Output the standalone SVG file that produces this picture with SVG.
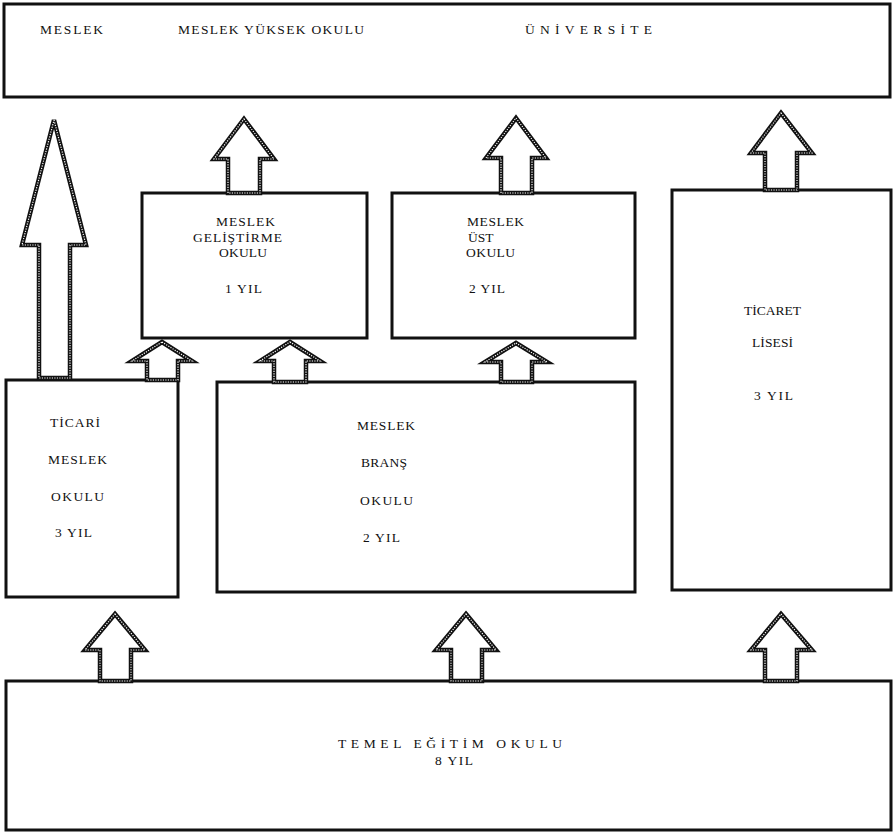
<svg xmlns="http://www.w3.org/2000/svg" width="895" height="836" viewBox="0 0 895 836">
<style>
.box{fill:#fff;stroke:#111;stroke-width:3}
.arr{fill:#fff;stroke:#111;stroke-width:4.5;stroke-linejoin:miter}
.dot{fill:none;stroke:#fff;stroke-width:1.2;stroke-dasharray:1.2 1.3}
text{font-family:"Liberation Serif","Times New Roman",serif;font-size:13.5px;fill:#111}
</style>
<rect width="895" height="836" fill="#fff"/>
<g id="universite">
<rect class="box" x="4" y="4" width="886" height="93"/>
<text x="40" y="34" textLength="63" lengthAdjust="spacing">MESLEK</text>
<text x="178" y="34" textLength="186" lengthAdjust="spacing">MESLEK YÜKSEK OKULU</text>
<text x="525" y="34" textLength="127" lengthAdjust="spacing">ÜNİVERSİTE</text>
</g>
<g id="meslek-gelistirme">
<rect class="box" x="142" y="193" width="225" height="145"/>
<text x="216" y="226" textLength="59" lengthAdjust="spacing">MESLEK</text>
<text x="193" y="242" textLength="89" lengthAdjust="spacing">GELİŞTİRME</text>
<text x="219" y="257" textLength="48" lengthAdjust="spacing">OKULU</text>
<text x="225" y="293" textLength="37" lengthAdjust="spacing">1 YIL</text>
</g>
<g id="meslek-ust">
<rect class="box" x="392" y="193" width="243" height="145"/>
<text x="467" y="226" textLength="57" lengthAdjust="spacing">MESLEK</text>
<text x="468" y="242">ÜST</text>
<text x="466" y="257" textLength="49" lengthAdjust="spacing">OKULU</text>
<text x="469" y="293" textLength="36" lengthAdjust="spacing">2 YIL</text>
</g>
<g id="ticaret-lisesi">
<rect class="box" x="672" y="190" width="219" height="400"/>
<text x="744" y="315" textLength="57" lengthAdjust="spacing">TİCARET</text>
<text x="752" y="347" textLength="41" lengthAdjust="spacing">LİSESİ</text>
<text x="754" y="400" textLength="39" lengthAdjust="spacing">3 YIL</text>
</g>
<g id="ticari-meslek">
<rect class="box" x="6" y="380" width="172" height="217"/>
<text x="50" y="427" textLength="50" lengthAdjust="spacing">TİCARİ</text>
<text x="48" y="464" textLength="59" lengthAdjust="spacing">MESLEK</text>
<text x="51" y="501" textLength="53" lengthAdjust="spacing">OKULU</text>
<text x="55" y="537" textLength="37" lengthAdjust="spacing">3 YIL</text>
</g>
<g id="meslek-brans">
<rect class="box" x="217" y="382" width="418" height="210"/>
<text x="357" y="430" textLength="58" lengthAdjust="spacing">MESLEK</text>
<text x="361" y="467" textLength="46" lengthAdjust="spacing">BRANŞ</text>
<text x="360" y="505" textLength="53" lengthAdjust="spacing">OKULU</text>
<text x="363" y="542" textLength="37" lengthAdjust="spacing">2 YIL</text>
</g>
<g id="temel-egitim">
<rect class="box" x="6" y="681" width="885" height="149"/>
<text x="338" y="748" textLength="224" lengthAdjust="spacing">TEMEL EĞİTİM OKULU</text>
<text x="435" y="765" textLength="38" lengthAdjust="spacing">8 YIL</text>
</g>
<g id="connectors">
<defs>
<path id="a1" d="M54,120 L86,245 L70,245 L70,378 L39,378 L39,245 L22,245 Z"/>
<path id="a2" d="M244,119 L274,159 L260,159 L260,193 L228,193 L228,159 L214,159 Z"/>
<path id="a3" d="M516,118 L546,158 L532,158 L532,193 L501,193 L501,158 L486,158 Z"/>
<path id="a4" d="M781,113 L812,153 L797,153 L797,190 L765,190 L765,153 L751,153 Z"/>
<path id="a5" d="M162,342 L192,361 L178,361 L178,380 L147,380 L147,361 L132,361 Z"/>
<path id="a6" d="M290,342 L320,361 L306,361 L306,382 L274,382 L274,361 L260,361 Z"/>
<path id="a7" d="M516,343 L547,362 L532,362 L532,382 L501,382 L501,362 L485,362 Z"/>
<path id="a8" d="M115,614 L145,650 L131,650 L131,681 L100,681 L100,650 L85,650 Z"/>
<path id="a9" d="M466,614 L496,650 L482,650 L482,681 L451,681 L451,650 L436,650 Z"/>
<path id="a10" d="M781,614 L812,650 L797,650 L797,681 L765,681 L765,650 L751,650 Z"/>
</defs>
<use href="#a1" class="arr"/><use href="#a1" class="dot"/>
<use href="#a2" class="arr"/><use href="#a2" class="dot"/>
<use href="#a3" class="arr"/><use href="#a3" class="dot"/>
<use href="#a4" class="arr"/><use href="#a4" class="dot"/>
<use href="#a5" class="arr"/><use href="#a5" class="dot"/>
<use href="#a6" class="arr"/><use href="#a6" class="dot"/>
<use href="#a7" class="arr"/><use href="#a7" class="dot"/>
<use href="#a8" class="arr"/><use href="#a8" class="dot"/>
<use href="#a9" class="arr"/><use href="#a9" class="dot"/>
<use href="#a10" class="arr"/><use href="#a10" class="dot"/>
</g>
</svg>
